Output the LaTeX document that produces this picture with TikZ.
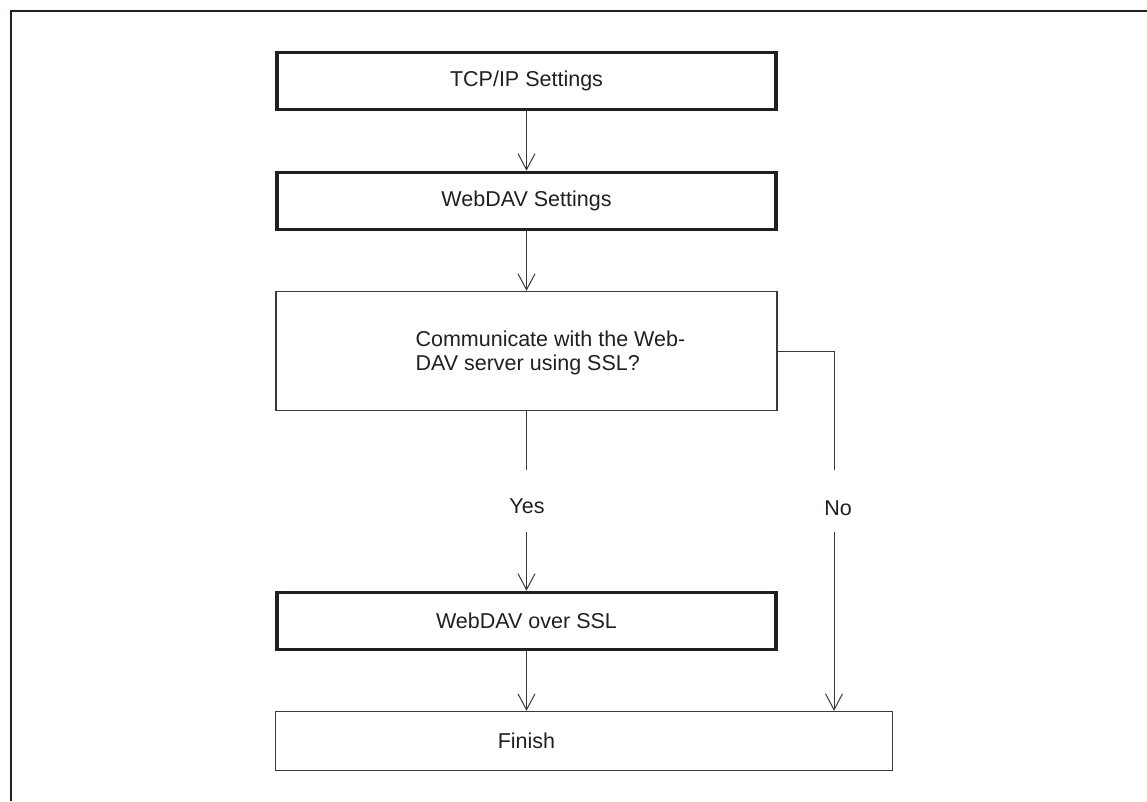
\documentclass[tikz,border=0pt]{standalone}
\usepackage{fontspec}
\setmainfont{Liberation Sans}
\usetikzlibrary{arrows.meta}
\definecolor{ink}{HTML}{231F20}
\definecolor{thin}{HTML}{3A3A3A}
\begin{document}
\begin{tikzpicture}[x=1pt,y=-1pt,
  every node/.style={font=\fontsize{21.5}{25}\selectfont, text=ink},
  thickbox/.style={draw=ink, line width=3.6pt, minimum width=499pt, minimum height=57pt, inner sep=0pt},
  thinbox/.style={draw=thin, line width=1.3pt, inner sep=0pt},
  conn/.style={draw=thin, line width=1pt},
  arr/.style={conn, -{Straight Barb[length=16pt, width=17pt, line width=1pt]}},
  lbl/.style={inner sep=0pt}]
\useasboundingbox (0,0) rectangle (1147,801);
\draw[ink, line width=2.5pt] (11,801) -- (11,11) -- (1147,11);

\node[thickbox] (tcp) at (526.5,81) {TCP/IP Settings};
\node[thickbox] (dav) at (526.5,201) {WebDAV Settings};
\node[thinbox, minimum width=501pt, minimum height=119pt,
  label={[lbl, anchor=west, align=left, xshift=140pt, yshift=-2pt, font=\fontsize{21.5}{24.5}\selectfont]west:Communicate with the Web-\\DAV server using SSL?}] (dec) at (526.5,351) {};
\node[thickbox] (ssl) at (526.5,621) {WebDAV over SSL};
\node[thinbox, minimum width=617pt, minimum height=59pt,
  label={[lbl, xshift=-57.5pt]center:Finish}] (fin) at (584,741) {};

\node[lbl] (yes) at (527,506) {Yes};
\node[lbl] (no) at (838,508) {No};
\coordinate (ya) at (526.5,470);
\coordinate (yb) at (526.5,532);
\coordinate (na) at (834,470);
\coordinate (nb) at (834,532);

\draw[arr] (tcp.south) -- (dav.north);
\draw[arr] (dav.south) -- (dec.north);
\draw[conn] (dec.south) -- (ya);
\draw[arr] (yb) -- (ssl.north);
\draw[arr] (ssl.south) -- (ssl.south |- fin.north);
\draw[conn] (dec.east) -| (na);
\draw[arr] (nb) -- (nb |- fin.north);
\end{tikzpicture}
\end{document}
